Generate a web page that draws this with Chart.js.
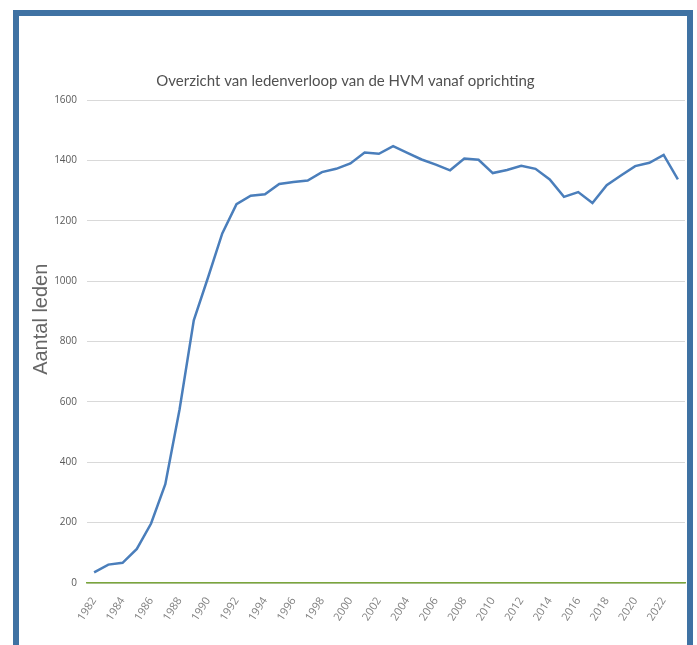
<!DOCTYPE html>
<html lang="nl">
<head>
  <meta charset="UTF-8">
  <title>Ledenverloop HVM</title>
  <script src="https://cdn.jsdelivr.net/npm/chart.js"></script>
  <style>
    * {
      margin: 0;
      padding: 0;
      box-sizing: border-box;
    }
    body {
      width: 697px;
      height: 645px;
      background: #ffffff;
      overflow: hidden;
      position: relative;
    }
    .frame {
      position: absolute;
      left: 13px;
      top: 10px;
      width: 680px;
      height: 720px;
      border: 6px solid #3f72a3;
    }
    #ledenChart {
      position: absolute;
      left: 0;
      top: 0;
    }
  </style>
</head>
<body>
  <div class="frame"></div>
  <canvas id="ledenChart" width="697" height="645"></canvas>

  <script>
    // jaren en aantal leden
    const jaren = [];
    for (let j = 1982; j <= 2023; j++) jaren.push(String(j));

    const leden = [
      35, 61, 67, 113, 197, 327, 575, 870, 1012, 1158,
      1255, 1283, 1288, 1322, 1328, 1333, 1361, 1372, 1390, 1426,
      1422, 1447, 1425, 1403, 1386, 1367, 1406, 1402, 1358, 1368,
      1382, 1372, 1337, 1279, 1295, 1259, 1318, 1350, 1381, 1392,
      1418, 1337
    ];

    const yTicks = [0, 200, 400, 600, 800, 1000, 1200, 1400, 1600];

    const grijs = '#595959';

    new Chart(document.getElementById('ledenChart'), {
      type: 'line',
      data: {
        labels: jaren,
        datasets: [{
          label: 'Aantal leden',
          data: leden,
          borderColor: '#4a7ebb',
          borderWidth: 2.5,
          pointRadius: 0,
          tension: 0,
          fill: false
        }]
      },
      options: {
        responsive: false,
        animation: false,
        devicePixelRatio: 1,
        layout: {
          padding: { left: 29, right: 12, top: 0, bottom: 0 }
        },
        plugins: {
          legend: { display: false },
          tooltip: { enabled: false },
          title: {
            display: true,
            // trailing spaces nudge the centred title a little to the left
            text: 'Overzicht van ledenverloop van de HVM vanaf oprichting      ',
            color: '#505050',
            font: { family: 'Lato', size: 15, weight: 'normal' },
            padding: { top: 72, bottom: 10 }
          }
        },
        scales: {
          x: {
            offset: true,
            grid: { display: false, drawTicks: false },
            border: { color: '#7aa63c', width: 1.5 },
            afterFit: (scale) => {
              scale.height = 62;
              scale.paddingLeft = 0;
              scale.paddingRight = 0;
            },
            ticks: {
              autoSkip: false,
              maxRotation: 57,
              minRotation: 57,
              padding: 12,
              color: '#7f7f7f',
              font: { family: 'Open Sans', size: 11 },
              callback: function (value, index) {
                return index % 2 === 0 ? jaren[index] : '';
              }
            }
          },
          y: {
            min: 0,
            max: 1600,
            afterBuildTicks: (scale) => {
              scale.ticks = yTicks.map(v => ({ value: v }));
            },
            afterFit: (scale) => { scale.width = 58; },
            grid: { color: '#d9d9d9', drawTicks: false },
            border: { display: false },
            ticks: {
              padding: 10,
              color: grijs,
              font: { family: 'Open Sans', size: 10 },
              callback: (v) => String(v)
            },
            title: {
              display: true,
              text: '        Aantal leden',
              color: '#666666',
              font: { family: 'Liberation Sans', size: 20 },
              padding: 0
            }
          }
        }
      }
    });
  </script>
</body>
</html>
